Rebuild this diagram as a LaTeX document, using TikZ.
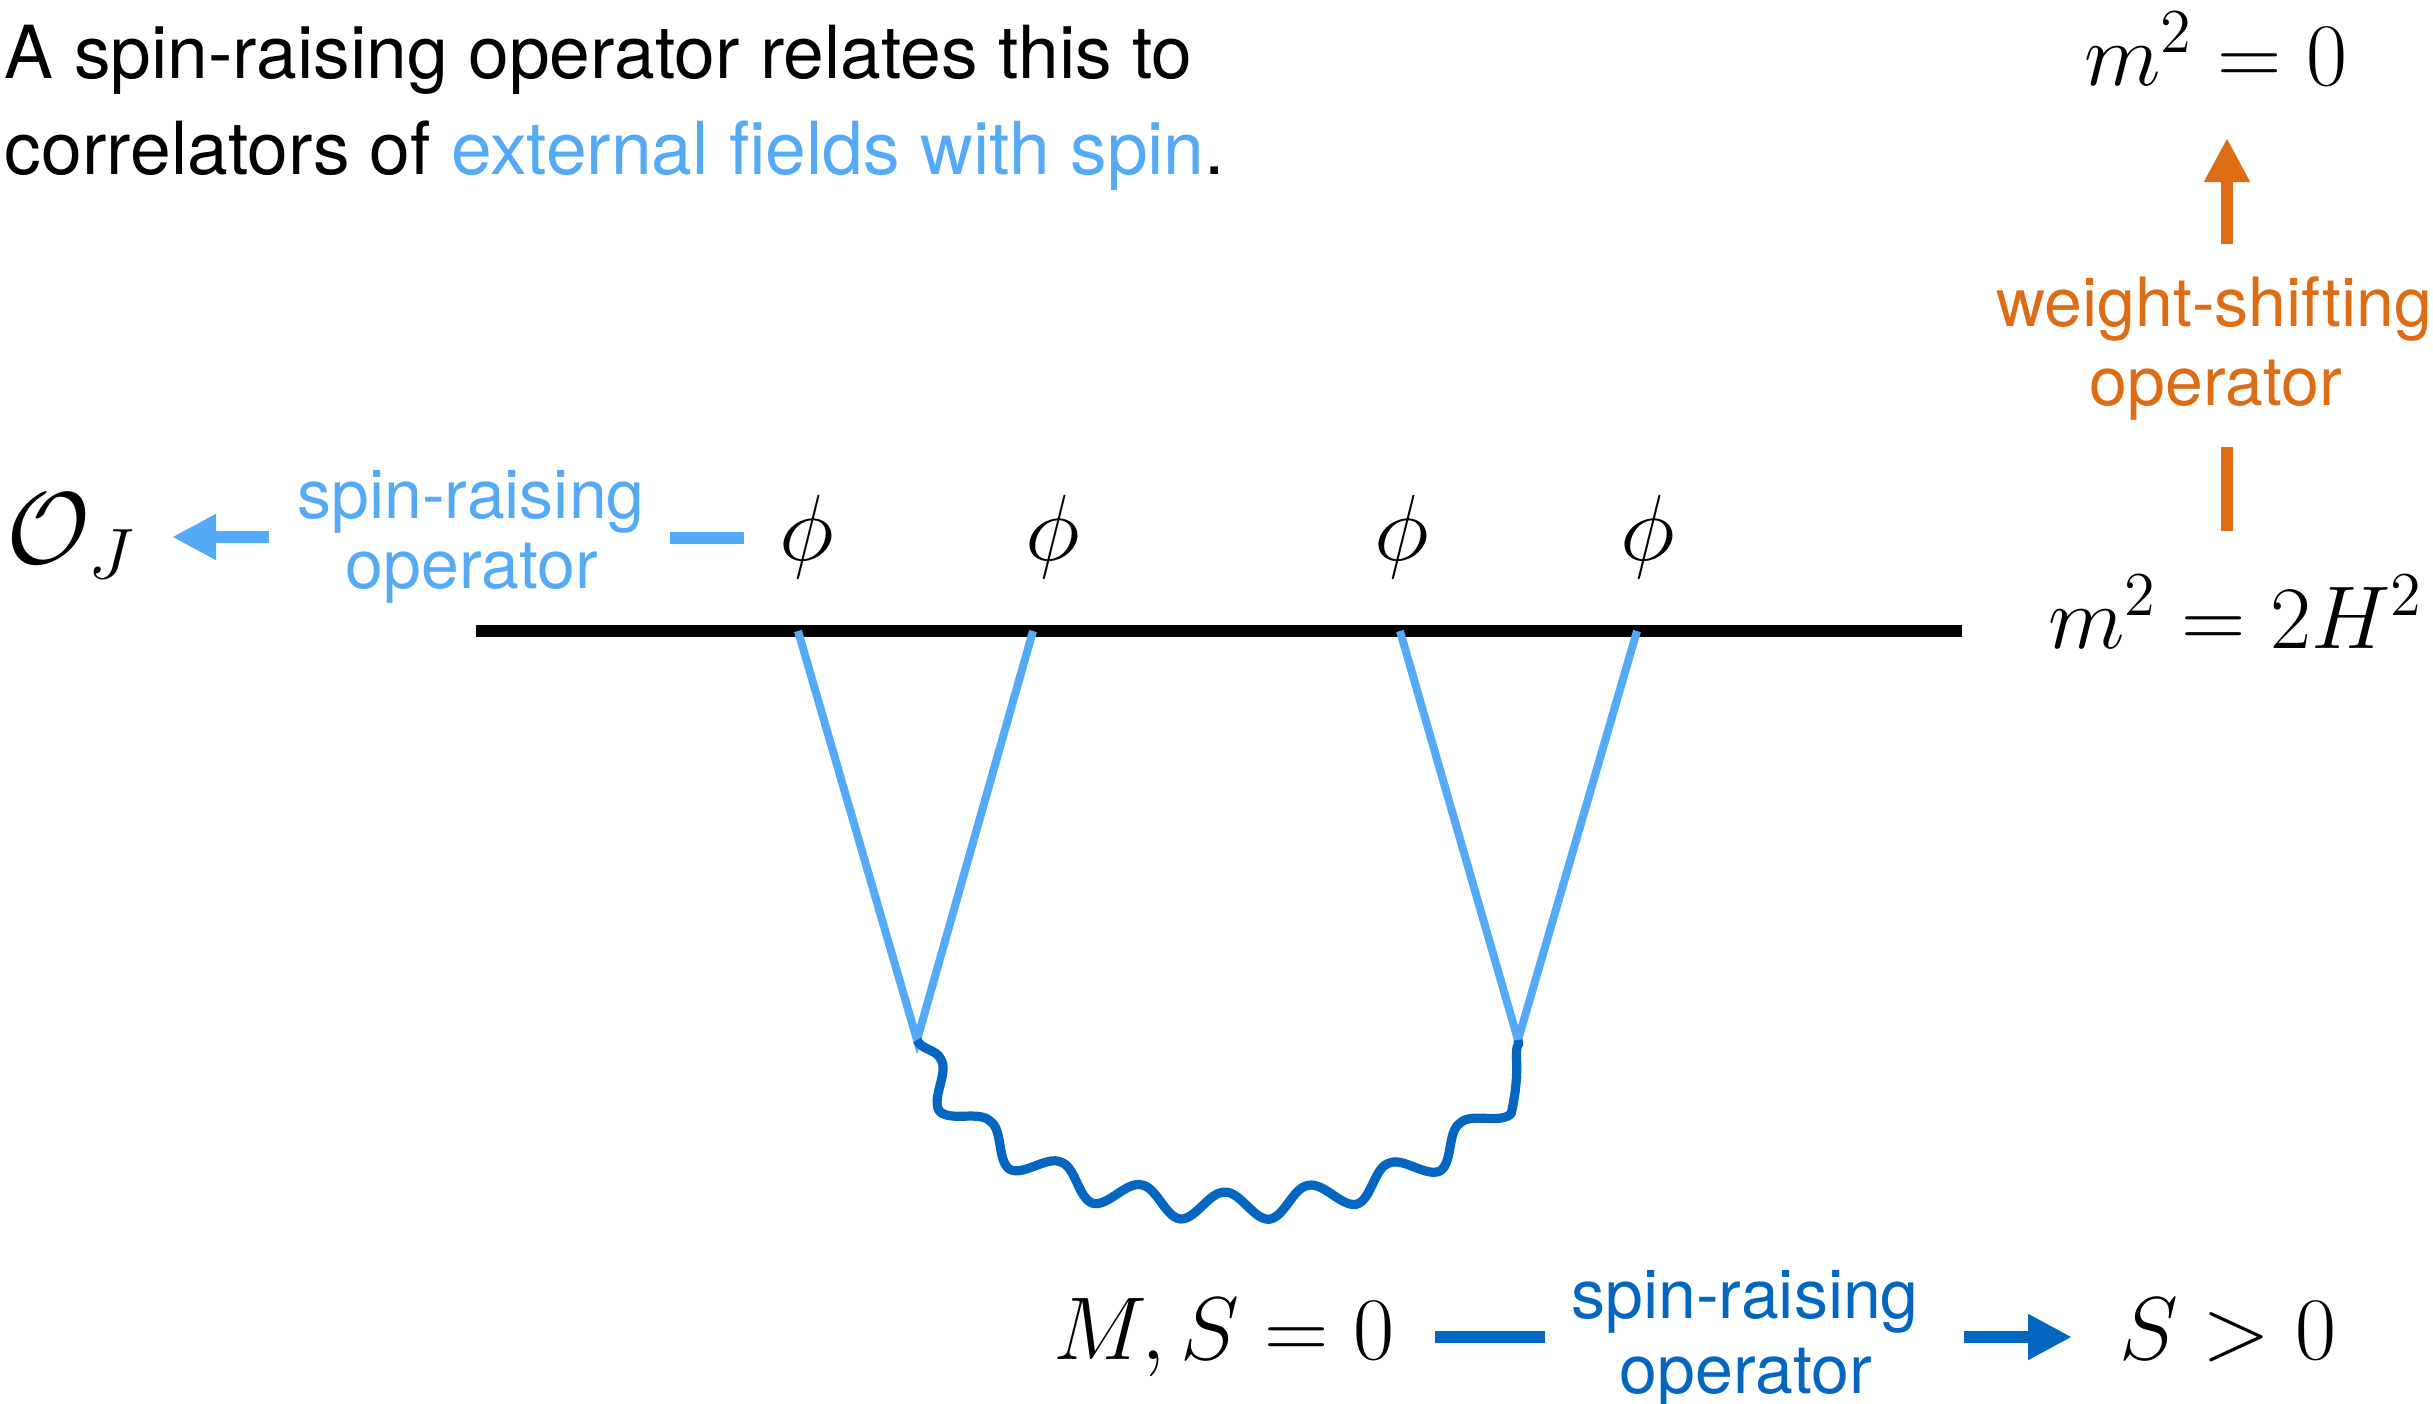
\RequirePackage{fix-cm}
\documentclass[tikz,border=0pt]{standalone}
\usepackage{fontspec}
\newfontfamily\hel{TeX Gyre Heros}
\usetikzlibrary{arrows.meta,decorations.pathmorphing}
\definecolor{lblue}{RGB}{85,170,247}
\definecolor{dblue}{RGB}{4,102,192}
\definecolor{orng}{RGB}{222,108,20}
\begin{document}
\begin{tikzpicture}[x=0.25pt,y=-0.25pt,
  every node/.style={inner sep=0pt,outer sep=0pt},
  body/.style={font=\hel\fontsize{18.3}{24}\selectfont},
  lab/.style={font=\hel\fontsize{17}{20}\selectfont},
  mth/.style={font=\fontsize{22.3}{26}\selectfont},
  phis/.style={font=\fontsize{23.5}{28}\selectfont},
  bigm/.style={font=\fontsize{25.5}{30}\selectfont},
  tipA/.style={-{Triangle[length=11pt,width=10.75pt]}},
  shaft/.style={line width=2.9pt},
  leg/.style={lblue,line width=2pt},
  boundary/.style={black,line width=3.2pt},
  wave/.style={dblue,line width=2.3pt,line join=round,decorate,
    decoration={snake,segment length=21.6pt,amplitude=3.6pt}}]
\useasboundingbox (0,0) rectangle (2433,1404);
\fill[white] (0,0) rectangle (2433,1404);

% top text
\node[body,anchor=base west] (t1) at (5,78) {A spin-raising operator relates this to};
\node[body,anchor=base west] (t2) at (5,174) {correlators of \textcolor{lblue}{external fields with spin}.};

% left side
\node[bigm,anchor=base west] (OJ) at (7,563) {$\mathcal{O}_J$};
\node[lab,lblue,anchor=base] (sl1) at (471,518) {spin-raising};
\node[lab,lblue,anchor=base] (sl2) at (472,588) {operator};
\coordinate (la1) at (269,537);
\coordinate (la2) at (172,537);
\draw[lblue,shaft,tipA] (la1) -- (la2);
\coordinate (ld1) at (670,538);
\coordinate (ld2) at (744,538);
\draw[lblue,shaft] (ld1) -- (ld2);

% phi fields
\node[phis,anchor=base] (p1) at (807,560) {$\phi$};
\node[phis,anchor=base] (p2) at (1053,560) {$\phi$};
\node[phis,anchor=base] (p3) at (1402,560) {$\phi$};
\node[phis,anchor=base] (p4) at (1648,560) {$\phi$};

% boundary line
\coordinate (bl) at (476,631);
\coordinate (br) at (1962,631);
\draw[boundary] (bl) -- (br);

% legs
\coordinate (a1) at (798,631);
\coordinate (a2) at (1033,631);
\coordinate (a3) at (1400,631);
\coordinate (a4) at (1637,631);
\coordinate (v1) at (917,1040);
\coordinate (v2) at (1518,1040);
\draw[leg] (a1) -- (v1) -- (a2);
\draw[leg] (a3) -- (v2) -- (a4);

% exchanged field
\draw[wave] (v1) .. controls (1000,1235) and (1435,1235) .. (v2);

% right side
\node[mth,anchor=base] (m0) at (2216,85) {$m^2=0$};
\node[mth,anchor=base west] (m2) at (2048,648) {$m^2=2H^2$};
\node[lab,orng,anchor=base] (ws1) at (2214,326) {weight-shifting};
\node[lab,orng,anchor=base] (ws2) at (2216,405) {operator};
\coordinate (oa1) at (2227,244);
\coordinate (oa2) at (2227,138);
\draw[orng,shaft,tipA] (oa1) -- (oa2);
\coordinate (os1) at (2227,531);
\coordinate (os2) at (2227,447);
\draw[orng,shaft] (os1) -- (os2);

% bottom
\node[mth,anchor=base west] (MS) at (1053,1359) {$M,S=0$};
\node[mth,anchor=base west] (Sp) at (2119,1359) {$S>0$};
\node[lab,dblue,anchor=base] (sb1) at (1745,1318) {spin-raising};
\node[lab,dblue,anchor=base] (sb2) at (1746,1393) {operator};
\coordinate (bd1) at (1435,1337);
\coordinate (bd2) at (1545,1337);
\draw[dblue,shaft] (bd1) -- (bd2);
\coordinate (ba1) at (1964,1337);
\coordinate (ba2) at (2072,1337);
\draw[dblue,shaft,tipA] (ba1) -- (ba2);
\end{tikzpicture}
\end{document}
